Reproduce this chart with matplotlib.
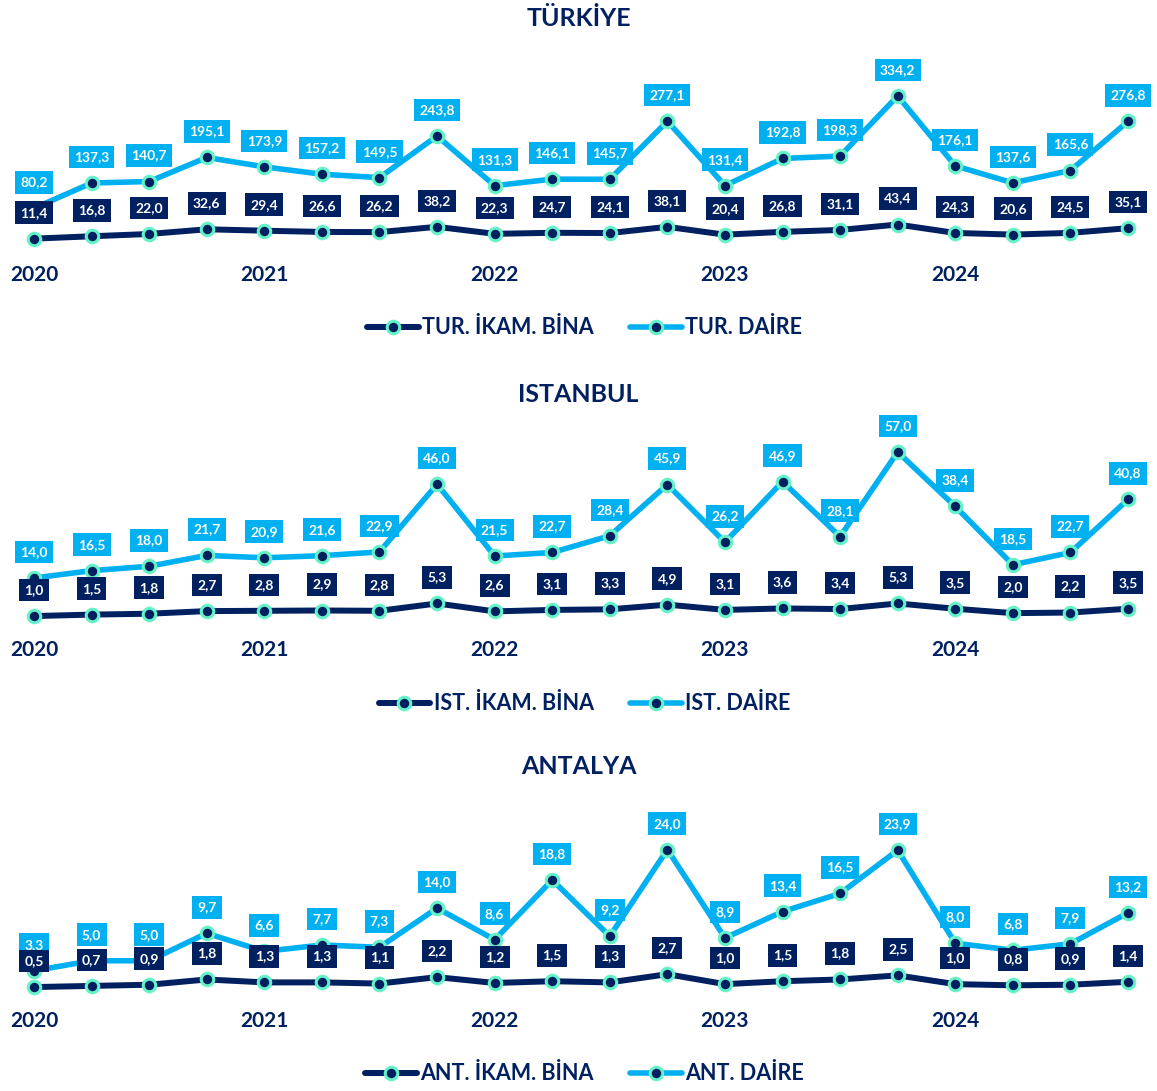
import matplotlib
matplotlib.use("Agg")
import matplotlib.pyplot as plt
from matplotlib.lines import Line2D

plt.rcParams['font.family'] = ['Lato', 'DejaVu Sans']

NAVY = '#002060'
LIGHT = '#00B0F0'
MINT = '#66F2C8'

# quarterly data 2020Q1 - 2024Q4
years = ['2020', '2021', '2022', '2023', '2024']

tur_bina = [11.4, 16.8, 22.0, 32.6, 29.4, 26.6, 26.2, 38.2, 22.3, 24.7,
            24.1, 38.1, 20.4, 26.8, 31.1, 43.4, 24.3, 20.6, 24.5, 35.1]
tur_daire = [80.2, 137.3, 140.7, 195.1, 173.9, 157.2, 149.5, 243.8, 131.3, 146.1,
             145.7, 277.1, 131.4, 192.8, 198.3, 334.2, 176.1, 137.6, 165.6, 276.8]

ist_bina = [1.0, 1.5, 1.8, 2.7, 2.8, 2.9, 2.8, 5.3, 2.6, 3.1,
            3.3, 4.9, 3.1, 3.6, 3.4, 5.3, 3.5, 2.0, 2.2, 3.5]
ist_daire = [14.0, 16.5, 18.0, 21.7, 20.9, 21.6, 22.9, 46.0, 21.5, 22.7,
             28.4, 45.9, 26.2, 46.9, 28.1, 57.0, 38.4, 18.5, 22.7, 40.8]

ant_bina = [0.5, 0.7, 0.9, 1.8, 1.3, 1.3, 1.1, 2.2, 1.2, 1.5,
            1.3, 2.7, 1.0, 1.5, 1.8, 2.5, 1.0, 0.8, 0.9, 1.4]
ant_daire = [3.3, 5.0, 5.0, 9.7, 6.6, 7.7, 7.3, 14.0, 8.6, 18.8,
             9.2, 24.0, 8.9, 13.4, 16.5, 23.9, 8.0, 6.8, 7.9, 13.2]

panels = [
    # title, bina, daire, legend names, (title y, axes top, zero line, scale px/unit, legend y)
    ('TÜRKİYE', tur_bina, tur_daire, ('TUR. İKAM. BİNA', 'TUR. DAİRE'), (19, 40, 243.7, 0.442, 328)),
    ('ISTANBUL', ist_bina, ist_daire, ('IST. İKAM. BİNA', 'IST. DAİRE'), (395, 410, 619, 2.93, 704)),
    ('ANTALYA', ant_bina, ant_daire, ('ANT. İKAM. BİNA', 'ANT. DAİRE'), (766, 790, 990, 5.85, 1074)),
]

W, H = 1157, 1091
fig = plt.figure(figsize=(W / 100, H / 100), dpi=100)

x = list(range(len(tur_bina)))
step = (1128 - 34) / 19
xmin = -34 / step
xmax = xmin + W / step


def fmt(v):
    return f"{v:.1f}".replace('.', ',')


for title, bina, daire, names, (ty, top, zero, scale, ly) in panels:
    bottom = zero + 12
    ax = fig.add_axes([0, 1 - bottom / H, 1, (bottom - top) / H])
    ax.set_xlim(xmin, xmax)
    ax.set_ylim((zero - bottom) / scale, (zero - top) / scale)
    for s in ax.spines.values():
        s.set_visible(False)
    ax.set_yticks([])
    ax.set_xticks(x[::4])
    ax.set_xticklabels(years, fontsize=15, fontweight='bold', color=NAVY)
    ax.tick_params(axis='x', length=0, pad=6.5)

    style = dict(marker='o', markersize=9, markerfacecolor=NAVY,
                 markeredgecolor=MINT, markeredgewidth=2.2, solid_capstyle='round')
    ax.plot(x, daire, color=LIGHT, lw=4, zorder=3, **style)
    ax.plot(x, bina, color=NAVY, lw=4.3, zorder=4, **style)

    for series, col, z in ((daire, LIGHT, 5), (bina, NAVY, 6)):
        for i, v in zip(x, series):
            ax.annotate(fmt(v), (i, v), xytext=(0, 26), textcoords='offset pixels',
                        ha='center', va='center', fontsize=10, fontweight='bold',
                        color='white', zorder=z, annotation_clip=False,
                        bbox=dict(boxstyle='square,pad=0.38', fc=col, ec='none'))

    fig.text(0.5, 1 - ty / H, title, ha='center', va='center',
             fontsize=18, fontweight='bold', color=NAVY)

    handles = [Line2D([], [], color=NAVY, lw=4.3, **style),
               Line2D([], [], color=LIGHT, lw=4, **style)]
    leg = fig.legend(handles, names, loc='center',
                     bbox_to_anchor=(0.5 + 6 / W, 1 - ly / H),
                     ncol=2, frameon=False, handlelength=2.4, handletextpad=0.15,
                     columnspacing=1.7, prop=dict(size=15.5, weight='bold'))
    for t in leg.get_texts():
        t.set_color(NAVY)

fig.savefig('out.png', dpi=100)
